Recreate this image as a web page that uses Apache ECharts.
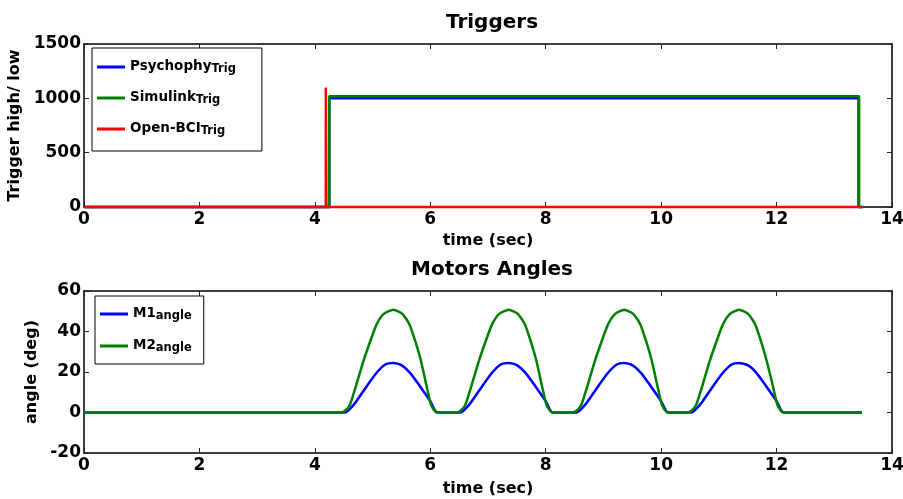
<!DOCTYPE html>
<html><head><meta charset="utf-8">
<script src="https://cdn.jsdelivr.net/npm/echarts@6/dist/echarts.min.js"></script>
<style>html,body{margin:0;padding:0;background:#fff}#c{width:903px;height:499px}</style>
</head><body><div id="c"></div>
<script>
// ---------- DATA ----------
const timeTicks = [0, 2, 4, 6, 8, 10, 12, 14];
const trigTicks = [0, 500, 1000, 1500];
const angleTicks = [-20, 0, 20, 40, 60];

const psychoT = [0, 4.25, 4.25, 13.42, 13.42, 13.47];
const psychoV = [0, 0, 1000, 1000, 0, 0];
const simT = [0, 4.25, 4.25, 13.43, 13.43, 13.50];
const simV = [0, 0, 1020, 1020, 0, 0];
const bciT = [0, 4.19, 4.19, 4.20, 4.20, 13.48];
const bciV = [0, 0, 1100, 1100, 0, 0];

const m1T = [0,
  4.52, 4.60, 4.72, 4.90, 5.07, 5.22, 5.36, 5.50, 5.65, 5.82, 6.00, 6.07, 6.12,
  6.52, 6.60, 6.72, 6.90, 7.07, 7.22, 7.36, 7.50, 7.65, 7.82, 8.00, 8.07, 8.12,
  8.53, 8.61, 8.73, 8.91, 9.08, 9.23, 9.36, 9.50, 9.65, 9.82, 10.00, 10.07, 10.12,
  10.52, 10.60, 10.72, 10.90, 11.07, 11.22, 11.35, 11.50, 11.65, 11.82, 12.00, 12.07, 12.12,
  13.48];
const m1V = [0,
  0, 1.5, 5.6, 13, 19.6, 23.7, 24.4, 23.4, 19.6, 13, 5.6, 1.5, 0,
  0, 1.5, 5.6, 13, 19.6, 23.7, 24.4, 23.4, 19.6, 13, 5.6, 1.5, 0,
  0, 1.5, 5.6, 13, 19.6, 23.7, 24.4, 23.4, 19.6, 13, 5.6, 1.5, 0,
  0, 1.5, 5.6, 13, 19.6, 23.7, 24.4, 23.4, 19.6, 13, 5.6, 1.5, 0,
  0];
const m2T = [0,
  4.45, 4.53, 4.61, 4.72, 4.84, 4.96, 5.07, 5.19, 5.36, 5.52, 5.64, 5.74, 5.84, 5.93, 6.01, 6.07, 6.12,
  6.45, 6.53, 6.61, 6.72, 6.84, 6.96, 7.07, 7.19, 7.36, 7.52, 7.64, 7.74, 7.84, 7.93, 8.01, 8.07, 8.12,
  8.46, 8.54, 8.62, 8.73, 8.85, 8.97, 9.08, 9.20, 9.36, 9.52, 9.64, 9.74, 9.84, 9.93, 10.01, 10.07, 10.12,
  10.45, 10.53, 10.61, 10.72, 10.84, 10.96, 11.07, 11.19, 11.35, 11.51, 11.63, 11.73, 11.83, 11.93, 12.01, 12.07, 12.12,
  13.48];
const m2V = [0,
  0, 1, 4, 13.8, 25.3, 35.2, 43.5, 48.6, 50.7, 48.6, 43.5, 35.2, 25.3, 13.8, 4, 1, 0,
  0, 1, 4, 13.8, 25.3, 35.2, 43.5, 48.6, 50.7, 48.6, 43.5, 35.2, 25.3, 13.8, 4, 1, 0,
  0, 1, 4, 13.8, 25.3, 35.2, 43.5, 48.6, 50.7, 48.6, 43.5, 35.2, 25.3, 13.8, 4, 1, 0,
  0, 1, 4, 13.8, 25.3, 35.2, 43.5, 48.6, 50.7, 48.6, 43.5, 35.2, 25.3, 13.8, 4, 1, 0,
  0];

// ---------- CHART ----------
const FONT = '"DejaVu Sans", sans-serif';
const zip = (a, b) => a.map((v, i) => [v, b[i]]);
const txt = { fontFamily: FONT, fontWeight: 'bold', fontSize: 17, color: '#000' };
const nameTxt = { fontFamily: FONT, fontWeight: 'bold', fontSize: 16, color: '#000' };

function xAx(grid, name, gap, top) {
  return {
    type: 'value', gridIndex: grid, position: top ? 'top' : 'bottom',
    min: timeTicks[0], max: timeTicks[timeTicks.length - 1], interval: timeTicks[1] - timeTicks[0],
    axisLine: { show: true, onZero: false, lineStyle: { color: '#000', width: 1.5 } },
    axisTick: { show: true, inside: true, length: 5, lineStyle: { color: '#222' } },
    axisLabel: top ? { show: false } : Object.assign({ margin: 4, formatter: v => String(v) }, txt),
    splitLine: { show: false },
    name: top ? '' : name, nameLocation: 'middle', nameGap: gap, nameTextStyle: nameTxt
  };
}
function yAx(grid, ticks, name, gap, right) {
  return {
    type: 'value', gridIndex: grid, position: right ? 'right' : 'left',
    min: ticks[0], max: ticks[ticks.length - 1], interval: ticks[1] - ticks[0],
    axisLine: { show: true, onZero: false, lineStyle: { color: '#000', width: 1.5 } },
    axisTick: { show: true, inside: true, length: 5, lineStyle: { color: '#222' } },
    axisLabel: right ? { show: false } : Object.assign({ margin: 3, formatter: v => String(v) }, txt),
    splitLine: { show: false },
    name: right ? '' : name, nameLocation: 'middle', nameGap: gap, nameTextStyle: nameTxt
  };
}
function ser(name, t, v, color, xi, yi, smooth) {
  return {
    name, type: 'line', xAxisIndex: xi, yAxisIndex: yi, data: zip(t, v),
    showSymbol: false, symbol: 'none', clip: false, smooth: smooth || false,
    lineStyle: { color, width: 2.5 }, itemStyle: { color }
  };
}
const subs = {
  'Psychophy_Trig': ['Psychophy', 'Trig'],
  'Simulink_Trig': ['Simulink', 'Trig'],
  'Open-BCI_Trig': ['Open-BCI', 'Trig'],
  'M1_angle': ['M1', 'angle'],
  'M2_angle': ['M2', 'angle']
};
const legendRich = {
  a: { fontFamily: FONT, fontWeight: 'bold', fontSize: 13.5, color: '#000', lineHeight: 16, verticalAlign: 'top', padding: [0, 0, 6, 0] },
  b: { fontFamily: FONT, fontWeight: 'bold', fontSize: 11.5, color: '#000', lineHeight: 14, verticalAlign: 'bottom', padding: [8, 0, 0, 0] }
};
function legend(names, left, top, gap, padRight, padTop, padBottom) {
  return {
    data: names, orient: 'vertical', left, top, itemGap: gap,
    icon: 'rect', itemWidth: 28, itemHeight: 3,
    borderColor: '#000', borderWidth: 1, padding: [padTop, padRight, padBottom, 5],
    backgroundColor: '#fff',
    formatter: n => '{a|' + subs[n][0] + '}{b|' + subs[n][1] + '}',
    textStyle: { rich: legendRich }
  };
}

const chart = echarts.init(document.getElementById('c'), null, { renderer: 'canvas' });
chart.setOption({
  animation: false,
  backgroundColor: '#fff',
  title: [
    { text: 'Triggers', left: 487, top: 8, textAlign: 'center', textStyle: { fontFamily: FONT, fontWeight: 'bold', fontSize: 20, color: '#000' } },
    { text: 'Motors Angles', left: 487, top: 255, textAlign: 'center', textStyle: { fontFamily: FONT, fontWeight: 'bold', fontSize: 20, color: '#000' } }
  ],
  grid: [
    { left: 84, top: 44, width: 808, height: 163, containLabel: false, outerBoundsMode: 'none' },
    { left: 84, top: 291, width: 808, height: 162, containLabel: false, outerBoundsMode: 'none' }
  ],
  xAxis: [xAx(0, 'time (sec)', 26), xAx(1, 'time (sec)', 28), xAx(0, '', 0, true), xAx(1, '', 0, true)],
  yAxis: [yAx(0, trigTicks, 'Trigger high/ low', 51), yAx(1, angleTicks, 'angle (deg)', 35),
          yAx(0, trigTicks, '', 0, true), yAx(1, angleTicks, '', 0, true)],
  legend: [
    legend(['Psychophy_Trig', 'Simulink_Trig', 'Open-BCI_Trig'], 92, 48, 7, 26, 7, 10),
    legend(['M1_angle', 'M2_angle'], 95, 296, 8, 12, 6, 6)
  ],
  series: [
    ser('Psychophy_Trig', psychoT, psychoV, '#0000ff', 0, 0),
    ser('Simulink_Trig', simT, simV, '#008000', 0, 0),
    ser('Open-BCI_Trig', bciT, bciV, '#ff0000', 0, 0),
    ser('M1_angle', m1T, m1V, '#0000ff', 1, 1, 0.2),
    ser('M2_angle', m2T, m2V, '#008000', 1, 1, 0.2)
  ]
});
</script></body></html>
